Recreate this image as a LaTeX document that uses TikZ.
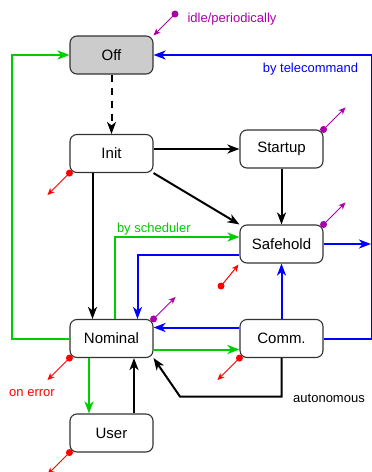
\documentclass[tikz,border=0pt]{standalone}
\usepackage{fontspec}
\setmainfont{Liberation Sans}
\usepackage{tikz}
\usetikzlibrary{arrows.meta}
\definecolor{modegreen}{RGB}{0, 204, 0}
\definecolor{modeblue}{RGB}{0, 0, 255}
\definecolor{errred}{RGB}{255, 0, 0}
\definecolor{evtpurple}{RGB}{170, 0, 170}
\definecolor{offgray}{RGB}{204, 204, 204}

\tikzset{
  mode/.style={draw=black!80, line width=1.1pt, rounded corners=7pt, fill=white,
    minimum width=83pt, minimum height=38pt, font=\fontsize{15}{18}\selectfont},
  trans/.style={line width=2pt, -{Stealth[length=12pt, width=9pt, inset=3.5pt]}},
  blk/.style={trans, black},
  grn/.style={trans, modegreen},
  blu/.style={trans, modeblue},
  evt/.style={line width=1pt, -{Stealth[length=7pt, width=6pt, inset=2pt]}},
  lbl/.style={font=\fontsize{13}{15}\selectfont}
}

\begin{document}
\begin{tikzpicture}[x=10pt, y=-10pt]
  \useasboundingbox (0,0) rectangle (37.2,47.2);

  % Modes
  \node[mode, fill=offgray] (off) at (11.15,5.5) {Off};
  \node[mode] (init) at (11.15,15.35) {Init};
  \node[mode] (startup) at (28.15,14.9) {Startup};
  \node[mode] (safehold) at (28.15,24.4) {Safehold};
  \node[mode] (nominal) at (11.15,33.85) {Nominal};
  \node[mode] (comm) at (28.15,33.85) {Comm.};
  \node[mode] (user) at (11.15,43.3) {User};

  \coordinate (tcline) at (37.1,5.5);
  \coordinate (idle) at (17.5,1.4);
  \coordinate (sherr) at (22.1,28.6);

  % Black transitions
  \draw[blk, dash pattern=on 7pt off 6pt] (off) -- (init);
  \draw[blk] (init.east |- startup.west) -- (startup.west);
  \draw[blk] (init.south east) -- (safehold.north west);
  \draw[blk] (startup) -- (safehold);
  \draw[blk] ([xshift=-19pt]init.south) -- ([xshift=-19pt]nominal.north);
  \draw[blk] (comm.south) -- ++(0,3.85) -- ++(-10.15,0) -- (nominal.south east);
  \draw[blk] ([xshift=22.5pt]user.north) -- ([xshift=22.5pt]nominal.south);
  \node[lbl, black] (autolbl) at (32.9,39.8) {autonomous};

  % Green transitions
  \draw[grn] (nominal.west) -- ++(-5.7,0) |- (off.west);
  \draw[grn] ([xshift=3.5pt]nominal.north) |- ([yshift=7pt]safehold.west)
    node[lbl, modegreen, pos=0.5, anchor=south west, inner sep=1pt] (schedlbl) {by scheduler};
  \draw[grn] ([yshift=-11pt]nominal.east) -- ([yshift=-11pt]nominal.east -| comm.west);
  \draw[grn] ([xshift=-22.5pt]nominal.south) -- ([xshift=-22.5pt]user.north);

  % Blue transitions
  \draw[blu] (comm.east) -- ++(4.8,0) |- (off.east);
  \node[lbl, modeblue] (tclbl) at (31.05,6.9) {by telecommand};
  \draw[blu] ([yshift=-11pt]safehold.west) -| ([xshift=26pt]nominal.north);
  \draw[blu] (safehold.east) -- (safehold.east -| tcline);
  \draw[blu] (comm) -- (safehold);
  \draw[blu] ([yshift=11pt]comm.west) -- ([yshift=11pt]comm.west -| nominal.east);

  % Periodic events
  \fill[evtpurple] (idle) circle (3.5pt);
  \draw[evt, evtpurple] (idle) -- (off.north east);
  \node[lbl, evtpurple, anchor=west] (idlelbl) at (18.4,1.9) {idle/periodically};
  \foreach \m in {startup, safehold, nominal} {
    \fill[evtpurple] (\m.north east) circle (3.5pt);
    \draw[evt, evtpurple] (\m.north east) -- ++(2.2,-2.2);
  }

  % Error events
  \foreach \m in {init, nominal, comm, user} {
    \fill[errred] (\m.south west) circle (3.5pt);
    \draw[evt, errred] (\m.south west) -- ++(-2.2,2.2);
  }
  \fill[errred] (sherr) circle (3.5pt);
  \draw[evt, errred, shorten >=1.5pt] (sherr) -- (safehold.south west);
  \node[lbl, errred] (errlbl) at (3.2,39.3) {on error};
\end{tikzpicture}
\end{document}
